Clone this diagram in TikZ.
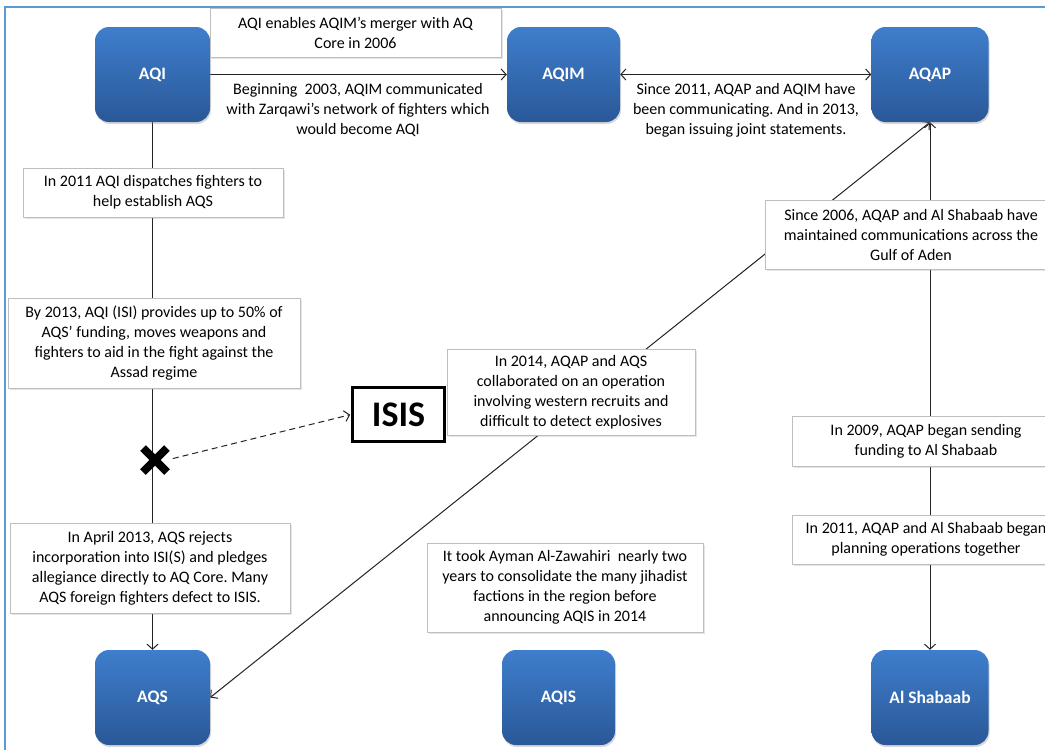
\documentclass[tikz,border=0pt]{standalone}
\usepackage{fontspec}
\setmainfont{Carlito}
\frenchspacing
\usetikzlibrary{arrows.meta,shadows,shapes.misc}
\pgfdeclarelayer{bg}
\pgfdeclarelayer{paper}
\pgfsetlayers{paper,bg,main}
\definecolor{nodetop}{RGB}{62,126,204}
\definecolor{nodebot}{RGB}{42,88,152}
\definecolor{frameblue}{RGB}{91,155,213}
\definecolor{boxline}{RGB}{190,190,190}
\definecolor{linegray}{RGB}{35,35,35}
\tikzset{
  org/.style={rounded corners=14pt, top color=nodetop, bottom color=nodebot, draw=none,
    text=white, font=\fontsize{17.5}{21}\selectfont\bfseries, minimum height=95pt,
    inner sep=0pt, drop shadow={shadow xshift=1pt, shadow yshift=-2pt, opacity=0.3}},
  note/.style={draw=boxline, fill=white, line width=0.8pt, align=center,
    font=\fontsize{16}{20}\selectfont, inner sep=0pt,
    drop shadow={shadow xshift=1.5pt, shadow yshift=-1.5pt, opacity=0.2}},
  lbl/.style={align=center, font=\fontsize{16}{20}\selectfont, inner sep=0pt},
  conn/.style={draw=linegray, line width=1pt},
  arr/.style={-{Straight Barb[length=5pt,width=11pt]}},
  darr/.style={{Straight Barb[length=5pt,width=11pt]}-{Straight Barb[length=5pt,width=11pt]}}
}
\begin{document}
\begin{tikzpicture}[x=1pt,y=-1pt]
\useasboundingbox (0,0) rectangle (1045,750);
\begin{pgfonlayer}{paper}
\fill[white] (0,0) rectangle (1045,750);
\end{pgfonlayer}
\clip (0,0) rectangle (1045,750);
% frame
\draw[frameblue, line width=2.5pt] (5,760) -- (5,7) -- (1060,7);

% organisation nodes
\node[org, minimum width=115pt] (aqi)  at (152.5,74.5) {AQI};
\node[org, minimum width=113pt] (aqim) at (563.5,74.5) {AQIM};
\node[org, minimum width=117pt] (aqap) at (930,74.5) {AQAP};
\node[org, minimum width=115pt] (aqs)  at (152.5,697.5) {AQS};
\node[org, minimum width=113pt] (aqis) at (558.5,697.5) {AQIS};
\node[org, minimum width=117pt] (alsh) at (930,697.5) {Al Shabaab};

% notes
\node[note, minimum width=291pt, minimum height=49pt] (t1) at (355.5,32.5)
  {AQI enables AQIM’s merger with AQ\\Core in 2006};
\node[lbl] (l1) at (358,110.5)
  {Beginning\ \ 2003, AQIM communicated\\with Zarqawi’s network of fighters which\\would become AQI};
\node[lbl] (l2) at (746,110.5)
  {Since 2011, AQAP and AQIM have\\been communicating. And in 2013,\\began issuing joint statements.};
\node[note, minimum width=260pt, minimum height=49pt] (t2) at (153,192.5)
  {In 2011 AQI dispatches fighters to\\help establish AQS};
\node[note, minimum width=292pt, minimum height=69pt] (t3) at (911,234.5)
  {Since 2006, AQAP and Al Shabaab have\\maintained communications across the\\Gulf of Aden};
\node[note, minimum width=292pt, minimum height=90pt] (t4) at (154,343)
  {By 2013, AQI (ISI) provides up to 50\% of\\AQS’ funding, moves weapons and\\fighters to aid in the fight against the\\Assad regime};
\node[draw=black, fill=white, line width=2.8pt, minimum width=92pt, minimum height=54pt,
  inner sep=0pt, font=\fontsize{36}{40}\selectfont\bfseries,
  drop shadow={shadow xshift=1.5pt, shadow yshift=-1.5pt, opacity=0.2}] (isis) at (398.5,414.5) {ISIS};
\node[note, minimum width=248pt, minimum height=86pt] (t5) at (571,392)
  {In 2014, AQAP and AQS\\collaborated on an operation\\involving western recruits and\\difficult to detect explosives};
\node[draw=black, cross out, line width=8pt, minimum size=16pt, inner sep=0pt] (xm) at (155,460) {};
\node[note, minimum width=280pt, minimum height=90pt] (t6) at (150,568)
  {In April 2013, AQS rejects\\incorporation into ISI(S) and pledges\\allegiance directly to AQ Core. Many\\AQS foreign fighters defect to ISIS.};
\node[note, minimum width=276pt, minimum height=89pt] (t7) at (565,587.5)
  {It took Ayman Al-Zawahiri\ \ nearly two\\years to consolidate the many jihadist\\factions in the region before\\announcing AQIS in 2014};
\node[note, minimum width=268pt, minimum height=50pt] (t8) at (926,441)
  {In 2009, AQAP began sending\\funding to Al Shabaab};
\node[note, minimum width=268pt, minimum height=49pt] (t9) at (926,539.5)
  {In 2011, AQAP and Al Shabaab began\\planning operations together};

% connectors
\begin{pgfonlayer}{bg}
\draw[conn, arr] (aqi.east) -- (aqim.west);
\draw[conn, darr] (aqim.east) -- (aqap.west);
\draw[conn, arr] (aqi.south) -- (aqs.north);
\draw[conn, darr] (aqap.south) -- (alsh.north);
\draw[conn, darr] (aqs.east) -- (aqap.south);
\end{pgfonlayer}
\draw[conn, arr, dash pattern=on 6pt off 4pt, shorten <=6pt, shorten >=1pt] (xm.east) -- (isis.west);
\end{tikzpicture}
\end{document}
